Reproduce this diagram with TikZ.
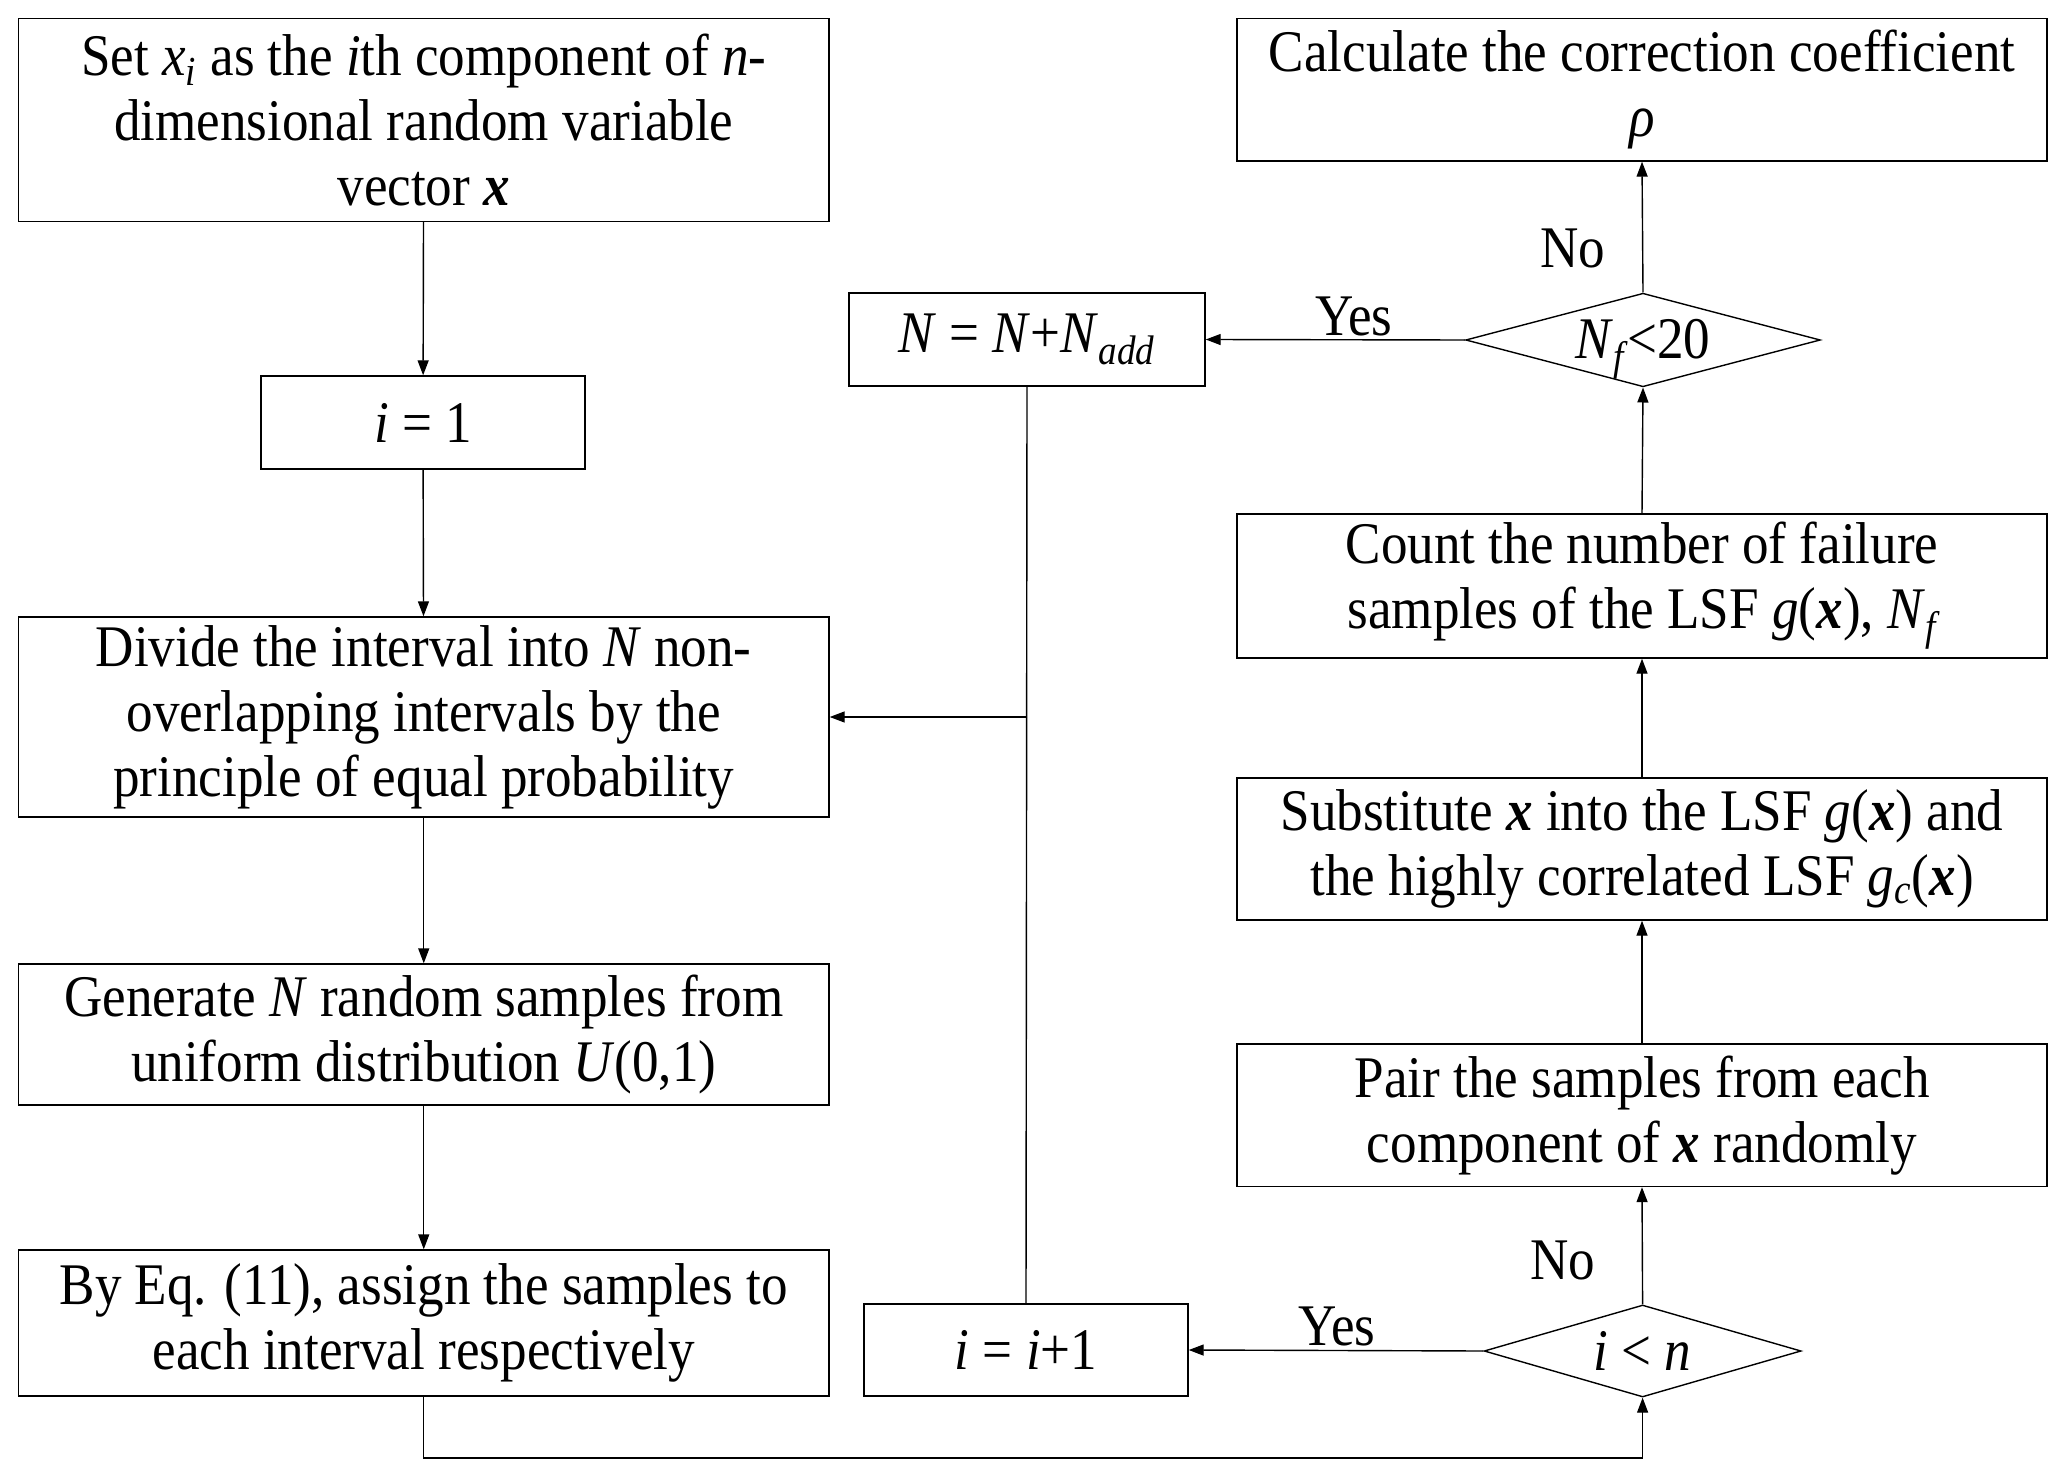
\documentclass[tikz,border=0pt]{standalone}
\usepackage{amsmath}
\usepackage{fontspec}
\setmainfont{Liberation Serif}[FakeStretch=0.9]
\usetikzlibrary{shapes.geometric,arrows.meta}
\begin{document}
\begin{tikzpicture}[x=0.5pt,y=-0.5pt,
  every node/.style={font=\fontsize{29.5}{32.5}\selectfont},
  box/.style={draw,line width=0.7pt,align=center,inner sep=0pt,anchor=center},
  dia/.style={draw,line width=0.7pt,diamond,inner sep=0pt,anchor=center,text height=19pt,text depth=0pt},
  arr/.style={line width=0.7pt,-{Triangle[length=7.5pt,width=5.5pt]}},
  ln/.style={line width=0.7pt},
  lab/.style={inner sep=0pt,anchor=center}]
\useasboundingbox (0,0) rectangle (2067,1476);
\newcommand{\bx}{\textbf{\textit{x}}}
% left column
\node[box,minimum width=405.25pt,minimum height=101.5pt] (box1) at (423.75,120)
  {Set \textit{x}$_{\text{\itshape i}}$ as the \textit{i}th component of \textit{n}-\\dimensional random variable\\vector \bx};
\node[box,minimum width=162pt,minimum height=46.5pt] (box2) at (423,422.5) {\textit{i} = 1};
\node[box,minimum width=405.25pt,minimum height=100pt] (box3) at (423.75,717)
  {Divide the interval into \textit{N} non-\\overlapping intervals by the\\principle of equal probability};
\node[box,minimum width=405.25pt,minimum height=70.5pt] (box4) at (423.75,1034.5)
  {Generate \textit{N} random samples from\\uniform distribution \textit{U}(0,1)};
\node[box,minimum width=405.25pt,minimum height=73pt] (box5) at (423.75,1323)
  {By Eq. (11), assign the samples to\\each interval respectively};
% middle column
\node[box,minimum width=178pt,minimum height=46.5pt] (nbox) at (1027,339.5)
  {\textit{N} = \textit{N}+\textit{N}$_{\text{\itshape add}}$};
\node[box,minimum width=162pt,minimum height=46pt] (ibox) at (1026,1350)
  {\textit{i} = \textit{i}+1};
% right column
\node[box,minimum width=405pt,minimum height=71.25pt] (top) at (1642,89.75)
  {Calculate the correction coefficient\\\textit{ρ}};
\node[dia,minimum width=177.3pt,minimum height=46.8pt,aspect=3.79] (d1) at (1643,340)
  {\textit{N}$_{\text{\itshape f}}$\kern1pt<20};
\node[box,minimum width=405pt,minimum height=72pt] (count) at (1642,586)
  {Count the number of failure\\samples of the LSF \textit{g}(\bx), \textit{N}$_{\text{\itshape f}}$};
\node[box,minimum width=405pt,minimum height=71pt] (subs) at (1642,849)
  {Substitute \bx{} into the LSF \textit{g}(\bx) and\\the highly correlated LSF \textit{g}$_{\text{\itshape c}}$(\bx)};
\node[box,minimum width=405pt,minimum height=71.25pt] (pair) at (1642,1115.25)
  {Pair the samples from each\\component of \bx{} randomly};
\node[dia,minimum width=158.5pt,minimum height=46pt,aspect=3.45] (d2) at (1642.6,1351)
  {\textit{i} < \textit{n}};
% labels
\node[lab] (no1) at (1573,248) {No};
\node[lab] (yes1) at (1354,316) {Yes};
\node[lab] (no2) at (1563,1260) {No};
\node[lab] (yes2) at (1337,1326) {Yes};
% connectors
\draw[arr] (box1) -- (box2);
\draw[arr] (box2) -- (box3);
\draw[arr] (box3) -- (box4);
\draw[arr] (box4) -- (box5);
\coordinate (bot) at (423.75,1458);
\draw[arr] (box5.south) -- (bot) -| (d2.south);
\draw[arr] (d2.north) -- (pair.south);
\draw[arr] (d2.west) -- (ibox.east);
\draw[arr] (pair) -- (subs);
\draw[arr] (subs) -- (count);
\draw[arr] (count.north) -- (d1.south);
\draw[arr] (d1.north) -- (top.south);
\draw[arr] (d1.west) -- (nbox.east);
\draw[ln] (nbox.south) -- (ibox.north);
\coordinate (junc) at (nbox.south |- box3.east);
\draw[arr] (junc) -- (box3.east);
\end{tikzpicture}
\end{document}
